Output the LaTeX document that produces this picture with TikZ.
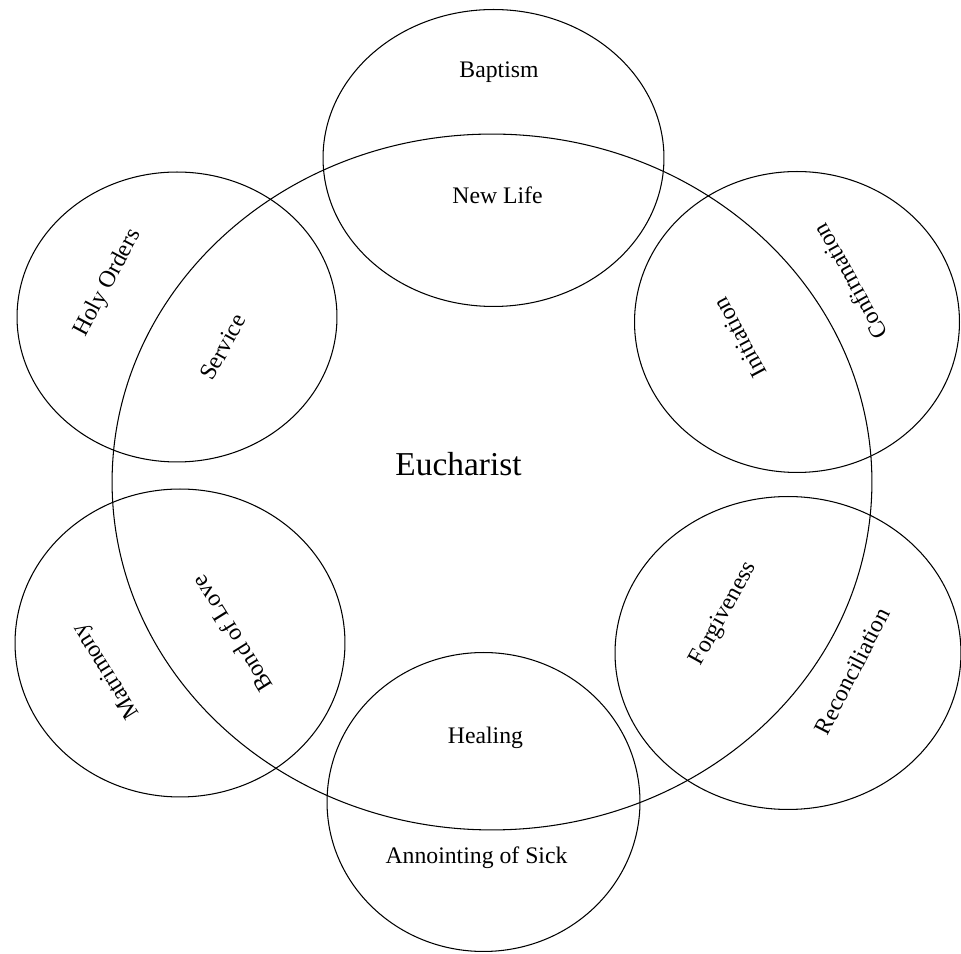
\documentclass[tikz,border=0pt]{standalone}
\usepackage{fontspec}
\setmainfont{Liberation Serif}
\usetikzlibrary{shapes.geometric, positioning, calc}
\tikzset{
	ring/.style={ellipse, draw, line width=0.6pt, inner sep=0pt},
	sacrament/.style={font=\fontsize{13.5}{16}\selectfont, inner sep=1pt},
	centre/.style={font=\fontsize{19}{22}\selectfont, inner sep=1pt}
}

\begin{document}
\begin{tikzpicture}[x=0.02cm, y=0.02cm]
		
		\useasboundingbox (0,0) rectangle (961,954);
		
		% --- Central Ring ---
		\node[ring, minimum width=15.2cm, minimum height=13.92cm] (eucharist_ring) at (492,472) {};
		\node[centre] (eucharist_label) at (458.5,490) {Eucharist};
		
		% --- Outer Rings ---
		\node[ring, minimum width=6.82cm, minimum height=5.94cm] (baptism_ring) at (493.5,796) {};
		\node[ring, minimum width=6.4cm, minimum height=5.8cm] (holy_orders_ring) at (177,637) {};
		\node[ring, minimum width=6.5cm, minimum height=6.02cm] (confirmation_ring) at (797,632) {};
		\node[ring, minimum width=6.6cm, minimum height=6.16cm] (matrimony_ring) at (180,311) {};
		\node[ring, minimum width=6.92cm, minimum height=6.26cm] (reconciliation_ring) at (788,301) {};
		\node[ring, minimum width=6.26cm, minimum height=5.98cm] (anointing_ring) at (483.5,152) {};
		
		% --- Names of the Sacraments (outside the central ring) ---
		\node[sacrament] (baptism_label) at (499,882) {Baptism};
		\node[sacrament, rotate=62] (holy_orders_label) at (108,671) {Holy Orders};
		\node[sacrament, rotate=119] (confirmation_label) at (850,672) {Confirmation};
		\node[sacrament, rotate=122] (matrimony_label) at (107,283) {Matrimony};
		\node[sacrament, rotate=63] (reconciliation_label) at (852,283) {Reconciliation};
		\node[sacrament] (anointing_label) at (476.5,96) {Annointing of Sick};
		
		% --- Shared Meanings (inside the central ring) ---
		\node[sacrament] (new_life_label) at (497.5,759) {New Life};
		\node[sacrament, rotate=61] (service_label) at (223,607) {Service};
		\node[sacrament, rotate=118] (initiation_label) at (740,616) {Initiation};
		\node[sacrament, rotate=122] (bond_label) at (232,320) {Bond of Love};
		\node[sacrament, rotate=61] (forgiveness_label) at (724,340) {Forgiveness};
		\node[sacrament] (healing_label) at (485.5,216) {Healing};
		
	\end{tikzpicture}
\end{document}
